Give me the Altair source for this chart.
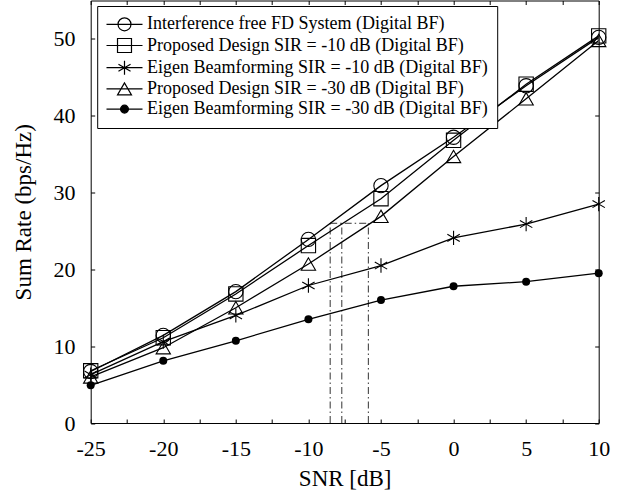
import altair as alt
import pandas as pd

# SNR sweep (dB) shared by every curve
snr = [-25, -20, -15, -10, -5, 0, 5, 10]

series = [
    "Interference free FD System (Digital BF)",
    "Proposed Design SIR = -10 dB (Digital BF)",
    "Eigen Beamforming SIR = -10 dB (Digital BF)",
    "Proposed Design SIR = -30 dB (Digital BF)",
    "Eigen Beamforming SIR = -30 dB (Digital BF)",
]

# Sum rate (bps/Hz) of each scheme over the SNR sweep
rate_free = [6.7, 11.4, 17.1, 23.9, 30.9, 37.2, 43.9, 50.2]
rate_prop10 = [6.8, 11.1, 16.8, 23.1, 29.2, 36.8, 44.1, 50.4]
rate_eig10 = [6.3, 10.6, 14.0, 17.9, 20.5, 24.1, 25.9, 28.5]
rate_prop30 = [6.0, 9.8, 15.0, 20.7, 26.9, 34.7, 42.2, 49.8]
rate_eig30 = [4.9, 8.1, 10.7, 13.5, 16.0, 17.8, 18.4, 19.5]

# SNR at which three of the curves reach the 26 bps/Hz reference rate
guide_snr = [-8.5, -7.7, -5.87]
guide_rate = 26

# Axis ticks
x_ticks = [-25, -22.5, -20, -17.5, -15, -12.5, -10, -7.5, -5, -2.5, 0, 2.5, 5, 7.5, 10]
y_ticks = [0, 10, 20, 30, 40, 50]

rates = [rate_free, rate_prop10, rate_eig10, rate_prop30, rate_eig30]
df = pd.DataFrame(
    [{"series": s, "snr": x, "rate": r} for s, vals in zip(series, rates) for x, r in zip(snr, vals)]
)
open_series = series[:4]
dot_series = series[4]

guide_v = pd.DataFrame({"snr": guide_snr, "rate": [guide_rate] * len(guide_snr), "base": [0] * len(guide_snr)})
guide_h = pd.DataFrame({"snr": [min(guide_snr)], "snr2": [max(guide_snr)], "rate": [guide_rate]})

FONT = "Liberation Serif"
XS = alt.Scale(domain=[-25, 10], nice=False, zero=False)
YS = alt.Scale(domain=[0, 55], nice=False)

# marker shapes used on the curves
ASTERISK = "M0,-1L0,1M-0.866,-0.5L0.866,0.5M-0.866,0.5L0.866,-0.5"
plot_shapes = ["circle", "square", ASTERISK, "triangle-up"]

# legend glyphs: a short line segment with the marker drawn on top of it
SEG = "M-2.5,0L2.5,0"
legend_shapes = [
    SEG + "M-0.9,0A0.9,0.9,0,1,1,0.9,0A0.9,0.9,0,1,1,-0.9,0Z",
    SEG + "M-0.97,-0.97L0.97,-0.97L0.97,0.97L-0.97,0.97Z",
    SEG + "M0,-0.97L0,0.97M-0.84,-0.485L0.84,0.485M-0.84,0.485L0.84,-0.485",
    SEG + "M0,-0.84L-0.97,0.84L0.97,0.84Z",
    SEG + "M-0.55,0A0.55,0.55,0,1,1,0.55,0A0.55,0.55,0,1,1,-0.55,0Z",
]
legend_fills = ["transparent", "transparent", "transparent", "transparent", "black"]
legend_strokes = ["black"] * 5

bottom_axis = alt.Axis(
    values=x_ticks,
    labelExpr="datum.value % 5 === 0 ? '' + datum.value : ''",
    orient="bottom", offset=-4, tickSize=4, domain=False, grid=False,
    labelFlush=False, labelOverlap=False,
    labelPadding=15, labelFont=FONT, labelFontSize=22, labelColor="black",
    tickColor="black", tickWidth=1,
    title="SNR [dB]", titleFont=FONT, titleFontSize=23, titleFontWeight="normal",
    titleColor="black", titleY=66.5, titleBaseline="alphabetic",
)
left_axis = alt.Axis(
    values=y_ticks, labelExpr="'' + datum.value",
    orient="left", offset=-4, tickSize=4, domain=False, grid=False,
    labelFlush=False, labelOverlap=False,
    labelPadding=15.7, labelFont=FONT, labelFontSize=22, labelColor="black",
    tickColor="black", tickWidth=1,
    title="Sum Rate (bps/Hz)", titleFont=FONT, titleFontSize=23, titleFontWeight="normal",
    titleColor="black", titleX=-64.7, titleBaseline="alphabetic",
)
top_axis = alt.Axis(
    values=x_ticks, orient="top", offset=-4, tickSize=4, domain=False, grid=False,
    labels=False, title=None, tickColor="black", tickWidth=1,
)
right_axis = alt.Axis(
    values=y_ticks, orient="right", offset=-4, tickSize=4, domain=False, grid=False,
    labels=False, title=None, tickColor="black", tickWidth=1,
)

base = alt.Chart(df)

lines = base.mark_line(color="black", strokeWidth=1.3).encode(
    x=alt.X("snr:Q", scale=XS, axis=bottom_axis),
    y=alt.Y("rate:Q", scale=YS, axis=left_axis),
    detail="series:N",
)

open_points = base.transform_filter(
    alt.FieldOneOfPredicate(field="series", oneOf=open_series)
).mark_point(stroke="black", strokeWidth=1.1, fill="transparent", size=205, opacity=1).encode(
    x=alt.X("snr:Q", scale=XS, axis=None),
    y=alt.Y("rate:Q", scale=YS, axis=None),
    shape=alt.Shape("series:N", scale=alt.Scale(domain=open_series, range=plot_shapes), legend=None),
)

dot_points = base.transform_filter(
    alt.datum.series == dot_series
).mark_circle(color="black", size=64, opacity=1).encode(
    x=alt.X("snr:Q", scale=XS, axis=None),
    y=alt.Y("rate:Q", scale=YS, axis=None),
)

legend = alt.Legend(
    title=None, orient="none", legendX=6.5, legendY=5.5,
    padding=9.3, strokeColor="black", fillColor="white",
    symbolSize=207.36, symbolStrokeWidth=1.2, symbolStrokeColor="black",
    symbolOffset=9, labelOffset=13.6, rowPadding=2.2, symbolOpacity=1,
    labelFont=FONT, labelFontSize=18, labelColor="black", labelLimit=0,
)

legend_layer = base.mark_point(opacity=0).encode(
    x=alt.X("snr:Q", scale=XS, axis=None),
    y=alt.Y("rate:Q", scale=YS, axis=None),
    shape=alt.Shape("series:N", scale=alt.Scale(domain=series, range=legend_shapes), legend=legend),
    fill=alt.Fill("series:N", scale=alt.Scale(domain=series, range=legend_fills), legend=legend),
    stroke=alt.Stroke("series:N", scale=alt.Scale(domain=series, range=legend_strokes), legend=legend),
)

dash = [7, 3, 1.5, 3]
guide_vert = alt.Chart(guide_v).mark_rule(color="#333333", strokeWidth=1, strokeDash=dash).encode(
    x=alt.X("snr:Q", scale=XS, axis=top_axis),
    y=alt.Y("base:Q", scale=YS, axis=right_axis),
    y2="rate:Q",
)
guide_horiz = alt.Chart(guide_h).mark_rule(color="#333333", strokeWidth=1, strokeDash=dash).encode(
    x=alt.X("snr:Q", scale=XS, axis=None),
    x2="snr2:Q",
    y=alt.Y("rate:Q", scale=YS, axis=None),
)

chart = (
    alt.layer(guide_vert, guide_horiz, lines, open_points, dot_points, legend_layer)
    .resolve_axis(x="independent", y="independent")
    .resolve_scale(shape="independent", fill="independent", stroke="independent")
    .properties(
        width=508, height=422.5,
        padding={"left": 90.7, "top": 0.5, "right": 29.3, "bottom": 72},
        autosize=alt.AutoSizeParams(type="none"),
        background="white",
    )
    .configure_view(stroke="black", strokeWidth=1)
)

chart.save("out.html", embed_options={"renderer": "svg", "actions": False})
